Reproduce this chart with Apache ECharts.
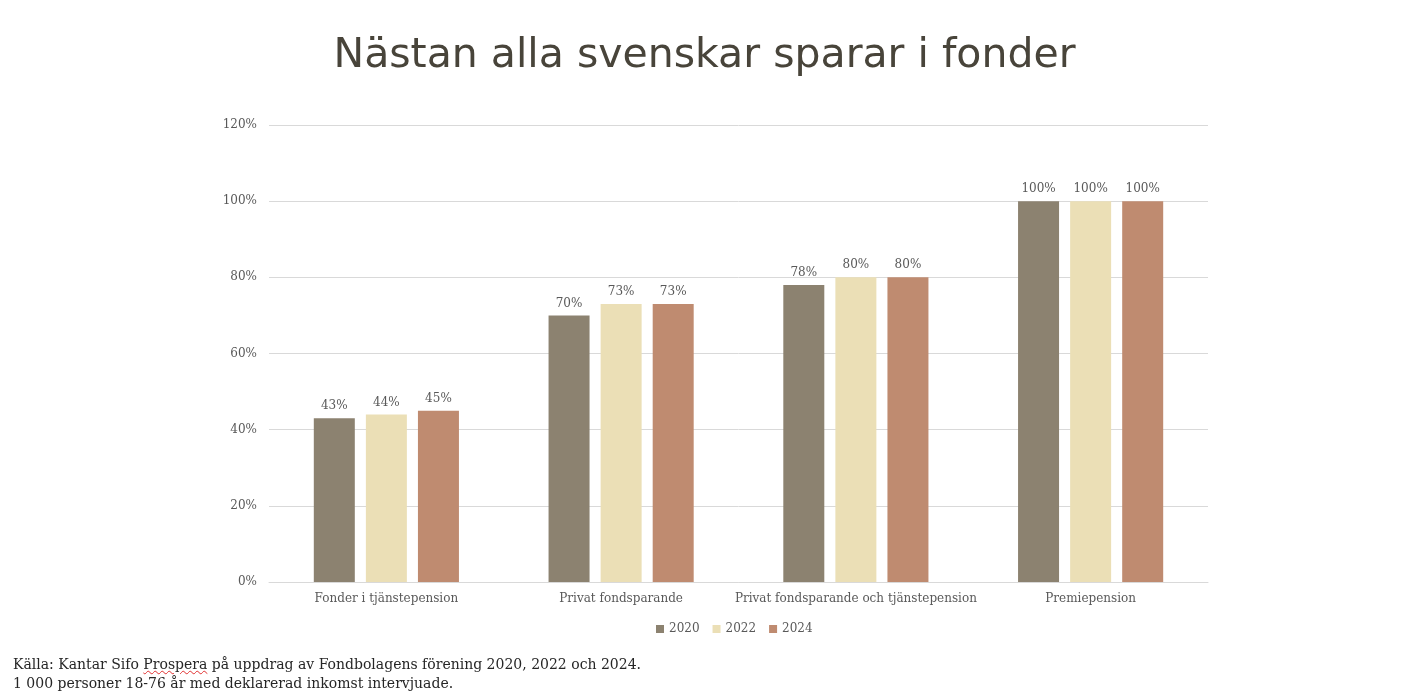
<!DOCTYPE html>
<html>
<head>
<meta charset="utf-8">
<script src="https://cdn.jsdelivr.net/npm/echarts@6/dist/echarts.min.js"></script>
<style>
  html, body { margin: 0; padding: 0; background: #fff; }
  #chart { width: 1409px; height: 698px; }
  .note {
    position: absolute; left: 13px; top: 655px;
    font-family: "DejaVu Serif", "Liberation Serif", serif;
    font-size: 14px; line-height: 19px; color: #262626;
  }
  .spell { text-decoration: underline wavy #e03030; text-decoration-thickness: 1px; text-underline-offset: 1px; }
</style>
</head>
<body>
<div id="chart"></div>
<div class="note">Källa: Kantar Sifo <span class="spell">Prospera</span> på uppdrag av Fondbolagens förening 2020, 2022 och 2024.<br>1 000 personer 18-76 år med deklarerad inkomst intervjuade.</div>
<script>
const categories = ['Fonder i tjänstepension', 'Privat fondsparande', 'Privat fondsparande och tjänstepension', 'Premiepension']
const years = ['2020', '2022', '2024']
const data2020 = [43, 70, 78, 100]
const data2022 = [44, 73, 80, 100]
const data2024 = [45, 73, 80, 100]
const colors = ['#8c8270', '#ebdfb6', '#bf8b70']

const chart = echarts.init(document.getElementById('chart'))

const serif = '"DejaVu Serif", "Liberation Serif", serif'

function makeSeries(name, values, color) {
    return {
        name: name,
        type: 'bar',
        data: values,
        barWidth: 41,
        barGap: '27%',
        itemStyle: { color: color },
        label: {
            show: true,
            position: 'top',
            distance: 6,
            formatter: '{c}%',
            color: '#595959',
            fontFamily: serif,
            fontSize: 12
        }
    }
}

chart.setOption({
    animation: false,
    title: {
        text: 'Nästan alla svenskar sparar i fonder',
        left: 'center',
        top: 31,
        textStyle: {
            fontFamily: '"DejaVu Sans", sans-serif',
            fontWeight: 'normal',
            fontSize: 41,
            color: '#48443a'
        }
    },
    legend: {
        data: years,
        bottom: 58,
        left: 651,
        itemWidth: 8,
        itemHeight: 8,
        itemGap: 13,
        icon: 'rect',
        textStyle: { fontFamily: serif, fontSize: 12, color: '#595959' }
    },
    grid: { left: 269, right: 201, top: 125, bottom: 116, containLabel: false },
    xAxis: {
        type: 'category',
        data: categories,
        axisLine: { show: true, lineStyle: { color: '#d9d9d9' } },
        axisTick: { show: false },
        axisLabel: { interval: 0, fontFamily: serif, fontSize: 12, color: '#595959', margin: 11 }
    },
    yAxis: {
        type: 'value',
        min: 0,
        max: 120,
        interval: 20,
        axisLine: { show: false },
        axisTick: { show: false },
        splitLine: { lineStyle: { color: '#d9d9d9' } },
        axisLabel: { formatter: '{value}%', fontFamily: serif, fontSize: 12, color: '#595959', margin: 12 }
    },
    series: [
        makeSeries(years[0], data2020, colors[0]),
        makeSeries(years[1], data2022, colors[1]),
        makeSeries(years[2], data2024, colors[2])
    ]
})
</script>
</body>
</html>
